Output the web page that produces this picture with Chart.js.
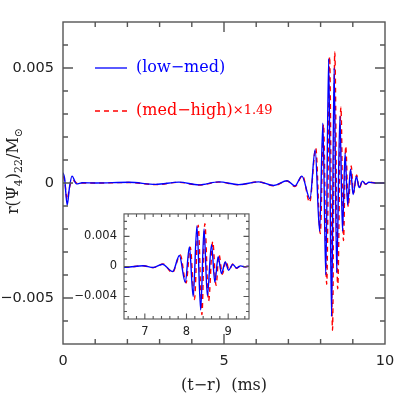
<!DOCTYPE html>
<html>
<head>
<meta charset="utf-8">
<script src="https://cdn.jsdelivr.net/npm/chart.js@4.4.1/dist/chart.umd.min.js"></script>
<style>
  html, body { margin: 0; padding: 0; background: #fff; }
  #wrap { position: relative; width: 407px; height: 407px; }
  #main { position: absolute; left: 0; top: 0; }
  #inset { position: absolute; left: 70px; top: 200px; }
</style>
</head>
<body>
<div id="wrap">
  <canvas id="main" width="407" height="407"></canvas>
  <canvas id="inset" width="185" height="145"></canvas>
</div>
<script>
// (t-r) in ms, r(Psi4)_22 / Msun (peaks, troughs, a few in-between points)
const tLowMed = [0, 0.05, 0.13, 0.2, 0.28, 0.42, 0.6, 1.02, 2.05, 2.88, 3.6, 4.22, 4.84, 5.46, 6.08, 6.54, 6.96, 7.2,
  7.42, 7.67, 7.83, 7.97, 8.07, 8.16, 8.25, 8.34, 8.42, 8.5, 8.6, 8.68, 8.76, 8.84, 8.93, 9.01, 9.11, 9.2, 9.3, 9.4, 9.5, 9.7, 10];
const psiLowMed = [0.00045, 0.0002, -0.00096, -0.0002, 0.0003, -0.00004, 0.00001, 0, 0.00003, -0.00006, 0.00004, -0.00008,
  0.00005, -0.00007, 0.00005, -0.00011, 0.0001, -0.00013,
  0.0003, -0.00068, 0.00145, -0.0021, 0.0026, -0.004, 0.0054, -0.0058, 0.005, -0.0039, 0.0029, -0.0021, 0.0013, -0.00095,
  0.0006, -0.0005, 0.00028, -0.0002, 0.00008, -0.00005, 0.00003, 0, 0];

// already multiplied by 1.49
const tMedHigh = [0, 0.05, 0.13, 0.2, 0.3, 0.45, 0.6, 1.02, 2.05, 2.88, 3.6, 4.22, 4.84, 5.46, 6.08, 6.54, 6.96, 7.2,
  7.44, 7.66, 7.85, 7.99, 8.09, 8.19, 8.28, 8.37, 8.44, 8.53, 8.63, 8.71, 8.78, 8.86, 8.95, 9.02, 9.12, 9.2, 9.3, 9.4, 9.5, 9.7, 10];
const psiMedHigh = [0.0003, 0.0001, -0.00072, -0.0002, 0.00012, -0.00002, 0, 0, 0.00002, -0.00007, 0.00003, -0.00009,
  0.00004, -0.00008, 0.00005, -0.00012, 0.00009, -0.00015,
  0.00032, -0.00084, 0.00152, -0.0022, 0.00255, -0.0044, 0.0055, -0.0064, 0.0057, -0.0046, 0.0033, -0.0025, 0.0016, -0.00103,
  0.00074, -0.00045, 0.00035, -0.00025, 0.0001, -0.00006, 0.00004, 0, 0];

// inset x tick positions (minor every 0.2 ms, labelled at whole ms)
const insetXTicks = [6.6, 6.8, 7, 7.2, 7.4, 7.6, 7.8, 8, 8.2, 8.4, 8.6, 8.8, 9, 9.2, 9.4];
const insetXLabels = [7, 8, 9];

const seriesLabels = ['(low\u2212med)', '(med\u2212high)'];
const scaleNote = ['', '\u00d71.49'];
const seriesColors = ['#0000ff', '#ff0000'];

const xLabelMain = '(t\u2212r)  (ms)';

const toXY = (ts, vs) => ts.map((t, i) => ({ x: t, y: vs[i] }));

function makeDatasets(width) {
  return [
    {
      label: seriesLabels[0],
      data: toXY(tLowMed, psiLowMed),
      borderColor: seriesColors[0],
      borderWidth: width,
      pointRadius: 0,
      cubicInterpolationMode: 'monotone',
    },
    {
      label: seriesLabels[1] + scaleNote[1],
      data: toXY(tMedHigh, psiMedHigh),
      borderColor: seriesColors[1],
      borderWidth: width,
      borderDash: [5, 4],
      pointRadius: 0,
      cubicInterpolationMode: 'monotone',
    },
  ];
}

// frame + inward ticks on all four sides
function frameTicks(cfg) {
  return {
    id: 'frameTicks',
    afterDatasetsDraw(chart) {
      const { ctx, chartArea: a, scales: { x, y } } = chart;
      ctx.save();
      ctx.strokeStyle = cfg.color;
      ctx.lineWidth = cfg.width;
      ctx.beginPath();
      x.ticks.forEach(t => {
        const px = x.getPixelForValue(t.value);
        if (px <= a.left + 0.5 || px >= a.right - 0.5) return;
        const len = cfg.isMajorX(t.value) ? cfg.major : cfg.minor;
        ctx.moveTo(px, a.bottom); ctx.lineTo(px, a.bottom - len);
        ctx.moveTo(px, a.top); ctx.lineTo(px, a.top + len);
      });
      y.ticks.forEach(t => {
        const py = y.getPixelForValue(t.value);
        if (py <= a.top + 0.5 || py >= a.bottom - 0.5) return;
        const len = cfg.isMajorY(t.value) ? cfg.major : cfg.minor;
        ctx.moveTo(a.left, py); ctx.lineTo(a.left + len, py);
        ctx.moveTo(a.right, py); ctx.lineTo(a.right - len, py);
      });
      ctx.stroke();
      ctx.strokeRect(a.left, a.top, a.right - a.left, a.bottom - a.top);
      ctx.restore();
    }
  };
}

const whiteArea = {
  id: 'whiteArea',
  beforeDatasetsDraw(chart) {
    const { ctx, chartArea: a } = chart;
    ctx.save();
    ctx.fillStyle = '#fff';
    ctx.fillRect(a.left, a.top, a.right - a.left, a.bottom - a.top);
    ctx.restore();
  }
};

const legendAndTitle = {
  id: 'legendAndTitle',
  afterDraw(chart) {
    const { ctx, chartArea: a } = chart;
    ctx.save();
    // legend
    ctx.textBaseline = 'middle';
    const rows = [a.top + 46, a.top + 89];
    rows.forEach((ry, i) => {
      ctx.strokeStyle = seriesColors[i];
      ctx.lineWidth = 1.3;
      ctx.setLineDash(i === 1 ? [5, 4] : []);
      ctx.beginPath();
      ctx.moveTo(a.left + 32, ry);
      ctx.lineTo(a.left + 64, ry);
      ctx.stroke();
      ctx.fillStyle = seriesColors[i];
      ctx.font = '16px "DejaVu Serif"';
      ctx.fillText(seriesLabels[i], a.left + 73, ry);
      if (scaleNote[i]) {
        const w = ctx.measureText(seriesLabels[i]).width;
        ctx.font = '13px "DejaVu Serif"';
        ctx.fillText(scaleNote[i], a.left + 73 + w, ry);
      }
    });
    ctx.setLineDash([]);

    // y title  r(Psi_4)_22 / M_sun
    const parts = [['r(\u03a8', 16, 0], ['4', 11, 4], [')', 16, 0], ['22', 11, 4], ['/M', 16, 0], ['\u2299', 11, 4]];
    let total = 0;
    parts.forEach(p => { ctx.font = p[1] + 'px "DejaVu Serif"'; total += ctx.measureText(p[0]).width; });
    ctx.translate(14, 171);
    ctx.rotate(-Math.PI / 2);
    ctx.fillStyle = '#222';
    ctx.textBaseline = 'alphabetic';
    let cx = -total / 2;
    parts.forEach(p => {
      ctx.font = p[1] + 'px "DejaVu Serif"';
      ctx.fillText(p[0], cx, 4 + p[2]);
      cx += ctx.measureText(p[0]).width;
    });
    ctx.restore();
  }
};

const mainYLabel = v => {
  const k = Math.round(v * 1000);
  if (k % 5 !== 0) return '';
  if (k === 0) return '0';
  return (k < 0 ? '\u2212' : '') + (Math.abs(k) / 1000).toFixed(3);
};
const insetYLabel = v => {
  const k = Math.round(v * 1000);
  if (k % 4 !== 0) return '';
  if (k === 0) return '0';
  return (k < 0 ? '\u2212' : '') + (Math.abs(k) / 1000).toFixed(3);
};
const isInsetXLabel = v => insetXLabels.some(l => Math.abs(l - v) < 1e-6);

new Chart(document.getElementById('main'), {
  type: 'line',
  data: { datasets: makeDatasets(1.4) },
  options: {
    responsive: false,
    animation: false,
    layout: { padding: { top: 22, right: 22, left: 0, bottom: 0 } },
    plugins: { legend: { display: false }, tooltip: { enabled: false } },
    scales: {
      x: {
        type: 'linear',
        min: 0, max: 10,
        grid: { display: false, tickLength: 0 },
        border: { display: false },
        afterFit: s => { s.height = 63; },
        ticks: {
          stepSize: 1, autoSkip: false, maxRotation: 0, padding: 9,
          color: '#222', font: { family: 'DejaVu Sans', size: 14.5 },
          callback: v => (Math.round(v) % 5 === 0 ? String(Math.round(v)) : ''),
        },
        title: {
          display: true, text: xLabelMain, color: '#222',
          font: { family: 'DejaVu Serif', size: 16 },
          padding: { top: 0, bottom: 12 },
        },
      },
      y: {
        min: -0.007, max: 0.007,
        grid: { display: false, tickLength: 0 },
        border: { display: false },
        afterFit: s => { s.width = 63; },
        ticks: {
          stepSize: 0.001, autoSkip: false, padding: 9,
          color: '#222', font: { family: 'DejaVu Sans', size: 14.5 },
          callback: mainYLabel,
        },
      },
    },
  },
  plugins: [frameTicks({
    color: '#555', width: 1.4, major: 10, minor: 5,
    isMajorX: v => Math.round(v) % 5 === 0,
    isMajorY: v => Math.round(v * 1000) % 5 === 0,
  }), legendAndTitle],
});

new Chart(document.getElementById('inset'), {
  type: 'line',
  data: { datasets: makeDatasets(1.4) },
  options: {
    responsive: false,
    animation: false,
    layout: { padding: { top: 8, right: 6, left: 0, bottom: 0 } },
    plugins: { legend: { display: false }, tooltip: { enabled: false } },
    scales: {
      x: {
        type: 'linear',
        min: 6.5, max: 9.5,
        grid: { display: false, tickLength: 0 },
        border: { display: false },
        afterFit: s => { s.height = 26; },
        afterBuildTicks: s => { s.ticks = insetXTicks.map(v => ({ value: v })); },
        ticks: {
          autoSkip: false, maxRotation: 0, padding: 6,
          color: '#222', font: { family: 'DejaVu Sans', size: 11.5 },
          callback: v => (isInsetXLabel(v) ? String(Math.round(v)) : ''),
        },
      },
      y: {
        min: -0.007, max: 0.007,
        grid: { display: false, tickLength: 0 },
        border: { display: false },
        afterFit: s => { s.width = 54; },
        ticks: {
          stepSize: 0.001, autoSkip: false, padding: 7,
          color: '#222', font: { family: 'DejaVu Sans', size: 11.5 },
          callback: insetYLabel,
        },
      },
    },
  },
  plugins: [whiteArea, frameTicks({
    color: '#555', width: 1.1, major: 5.5, minor: 3,
    isMajorX: v => isInsetXLabel(v),
    isMajorY: v => Math.round(v * 1000) % 4 === 0,
  })],
});
</script>
</body>
</html>
